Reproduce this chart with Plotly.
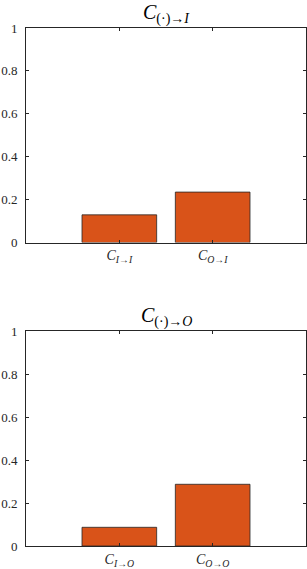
import plotly.graph_objects as go

# data
cats_top = ["<i>C</i><sub><i>I</i>→<i>I</i></sub>", "<i>C</i><sub><i>O</i>→<i>I</i></sub>"]
vals_top = [0.129, 0.235]
cats_bot = ["<i>C</i><sub><i>I</i>→<i>O</i></sub>", "<i>C</i><sub><i>O</i>→<i>O</i></sub>"]
vals_bot = [0.087, 0.287]
positions = [1, 2]
yticks = [0, 0.2, 0.4, 0.6, 0.8, 1]
ytick_text = ["0", "0.2", "0.4", "0.6", "0.8", "1"]
title_top = "<i>C</i><sub>(·)→<i>I</i></sub>"
title_bot = "<i>C</i><sub>(·)→<i>O</i></sub>"

H = 569.0
SERIF = "Liberation Serif, DejaVu Serif, serif"
fig = go.Figure()
bar_style = dict(marker=dict(color="#D95319", line=dict(color="#262626", width=0.8)),
                 width=0.8, showlegend=False, hoverinfo="skip")
fig.add_trace(go.Bar(x=positions, y=vals_top, xaxis="x", yaxis="y", **bar_style))
fig.add_trace(go.Bar(x=positions, y=vals_bot, xaxis="x2", yaxis="y2", **bar_style))

font = dict(family=SERIF, size=13, color="#262626")
xfont = dict(family=SERIF, size=14, color="#262626")
axis_common = dict(showline=True, linecolor="#262626", linewidth=1, mirror="allticks",
                   ticks="inside", ticklen=3, tickcolor="#262626", showgrid=False,
                   zeroline=False, automargin=False)

fig.update_layout(
    width=307, height=569,
    margin=dict(l=26, r=1, t=0, b=0, pad=0),
    paper_bgcolor="white", plot_bgcolor="white",
    font=font,
    xaxis=dict(domain=[0, 1], range=[0, 3], tickvals=positions, ticktext=cats_top,
               anchor="y", tickfont=xfont, **axis_common),
    yaxis=dict(domain=[1 - 242.5 / H, 1 - 28 / H], range=[0, 1], tickvals=yticks,
               ticktext=ytick_text, anchor="x", ticklabelstandoff=5, tickfont=font,
               **axis_common),
    xaxis2=dict(domain=[0, 1], range=[0, 3], tickvals=positions, ticktext=cats_bot,
                anchor="y2", tickfont=xfont, **axis_common),
    yaxis2=dict(domain=[1 - 546 / H, 1 - 331 / H], range=[0, 1], tickvals=yticks,
                ticktext=ytick_text, anchor="x2", ticklabelstandoff=5, tickfont=font,
                **axis_common),
    annotations=[
        dict(text=title_top, x=0.5, y=1 - 28 / H, xref="paper", yref="paper",
             xanchor="center", yanchor="bottom", showarrow=False, borderpad=0,
             font=dict(family=SERIF, size=20, color="black")),
        dict(text=title_bot, x=0.5, y=1 - 331 / H, xref="paper", yref="paper",
             xanchor="center", yanchor="bottom", showarrow=False, borderpad=0,
             font=dict(family=SERIF, size=20, color="black")),
    ],
)

fig.write_html("out.html", config={"displayModeBar": False},
               post_script="document.body.style.margin='0px';document.body.style.overflow='hidden';")
